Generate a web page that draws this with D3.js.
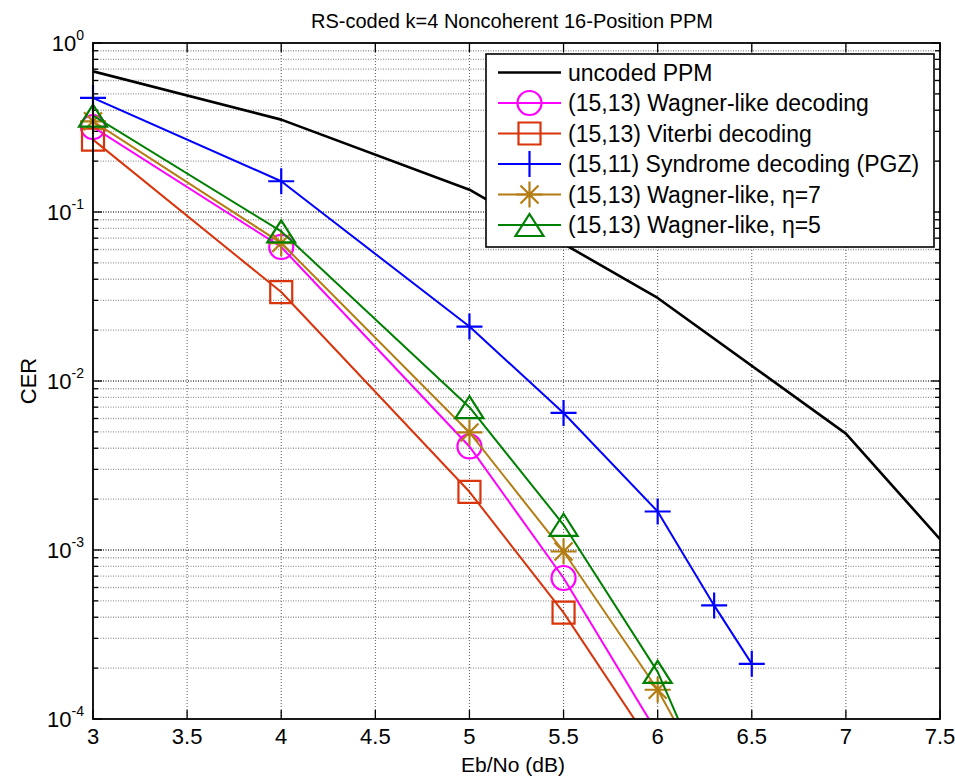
<!DOCTYPE html>
<html>
<head>
<meta charset="utf-8">
<script src="https://cdn.jsdelivr.net/npm/d3@7"></script>
<style>
  body { margin: 0; background: #fff; }
  text { font-family: "Liberation Sans", Arial, Helvetica, sans-serif; fill: #000; }
</style>
</head>
<body>
<svg id="chart" width="955" height="779"></svg>
<script>
// Eb/No sample points (dB)
const ebnoUncoded = [3, 4, 5, 6, 7, 7.5];
const ebnoCoded = [3, 4, 5, 5.5, 6, 6.5];
const ebnoPGZ = [3, 4, 5, 5.5, 6, 6.3, 6.5];

// Codeword error rates
const cerUncoded = [0.68, 0.352, 0.1355, 0.031, 0.00488, 0.00116];
const cerWagner = [0.318, 0.0621, 0.0041, 0.000683, 0.000082];
const cerViterbi = [0.268, 0.0336, 0.00221, 0.000426, 0.000062];
const cerPGZ = [0.473, 0.152, 0.021, 0.00647, 0.00169, 0.00047, 0.000212];
const cerEta7 = [0.344, 0.0655, 0.00496, 0.00098, 0.000149, 0.0000145];
const cerEta5 = [0.372, 0.0768, 0.0070, 0.00141, 0.00019, 0.00001];

// Legend labels
const seriesNames = [
  "uncoded PPM",
  "(15,13) Wagner-like decoding",
  "(15,13) Viterbi decoding",
  "(15,11) Syndrome decoding (PGZ)",
  "(15,13) Wagner-like, \u03B7=7",
  "(15,13) Wagner-like, \u03B7=5"
];

// Axis ticks
const xTicks = [3, 3.5, 4, 4.5, 5, 5.5, 6, 6.5, 7, 7.5];
const yDecadeExps = [-4, -3, -2, -1, 0];

const titleText = "RS-coded k=4 Noncoherent 16-Position PPM";
const xLabel = "Eb/No (dB)";
const yLabel = "CER";

// ---- drawing ----
const svg = d3.select("#chart");
const L = 93, R = 940, T = 43, B = 719;

const x = d3.scaleLinear().domain([3, 7.5]).range([L, R]);
const y = d3.scaleLog().domain([1e-4, 1]).range([B, T]);

const series = [
  { xs: ebnoUncoded, ys: cerUncoded, color: "#000000", width: 2.6, marker: null },
  { xs: ebnoCoded, ys: cerWagner, color: "#FF00FF", width: 2, marker: "circle" },
  { xs: ebnoCoded, ys: cerViterbi, color: "#D9340B", width: 2, marker: "square" },
  { xs: ebnoPGZ, ys: cerPGZ, color: "#0000FF", width: 2, marker: "plus" },
  { xs: ebnoCoded, ys: cerEta7, color: "#B47D14", width: 2, marker: "asterisk" },
  { xs: ebnoCoded, ys: cerEta5, color: "#008000", width: 2, marker: "triangle" }
];
series.forEach((s, i) => s.name = seriesNames[i]);

// Grid
const grid = svg.append("g");
xTicks.forEach(t => {
  if (t === 3 || t === 7.5) return;
  grid.append("line")
    .attr("x1", x(t)).attr("x2", x(t)).attr("y1", T).attr("y2", B)
    .attr("stroke", "#555").attr("stroke-width", 1).attr("stroke-dasharray", "1,2");
});
const minorVals = [];
yDecadeExps.slice(0, -1).forEach(e => {
  for (let m = 2; m <= 9; m++) minorVals.push(m * Math.pow(10, e));
});
minorVals.forEach(v => {
  grid.append("line")
    .attr("x1", L).attr("x2", R).attr("y1", y(v)).attr("y2", y(v))
    .attr("stroke", "#999").attr("stroke-width", 1.3).attr("stroke-dasharray", "1,1.5");
});
yDecadeExps.forEach(e => {
  const v = Math.pow(10, e);
  if (e === -4 || e === 0) return;
  grid.append("line")
    .attr("x1", L).attr("x2", R).attr("y1", y(v)).attr("y2", y(v))
    .attr("stroke", "#444").attr("stroke-width", 1.3).attr("stroke-dasharray", "1,1.5");
});

// Ticks (inside, on all four sides)
const ticks = svg.append("g").attr("stroke", "#000").attr("stroke-width", 1.3);
const majorLen = 9, minorLen = 5;
xTicks.forEach(t => {
  ticks.append("line").attr("x1", x(t)).attr("x2", x(t)).attr("y1", B).attr("y2", B - majorLen);
  ticks.append("line").attr("x1", x(t)).attr("x2", x(t)).attr("y1", T).attr("y2", T + majorLen);
});
yDecadeExps.forEach(e => {
  const yy = y(Math.pow(10, e));
  ticks.append("line").attr("x1", L).attr("x2", L + majorLen).attr("y1", yy).attr("y2", yy);
  ticks.append("line").attr("x1", R).attr("x2", R - majorLen).attr("y1", yy).attr("y2", yy);
});
minorVals.forEach(v => {
  const yy = y(v);
  ticks.append("line").attr("x1", L).attr("x2", L + minorLen).attr("y1", yy).attr("y2", yy);
  ticks.append("line").attr("x1", R).attr("x2", R - minorLen).attr("y1", yy).attr("y2", yy);
});

// Clip for lines
svg.append("clipPath").attr("id", "plotClip")
  .append("rect").attr("x", L).attr("y", T).attr("width", R - L).attr("height", B - T);

const line = d3.line().x(d => x(d[0])).y(d => y(d[1]));

const markerPath = {
  circle: null,
  square: "M-11,-11H11V11H-11Z",
  triangle: "M0,-11L14,11L-14,11Z",
  plus: "M-13,0H13M0,-13V13",
  asterisk: "M-13,0H13M0,-13V13M-9,-9L9,9M-9,9L9,-9"
};

function drawMarker(g, type, cx, cy, color) {
  if (type === "circle") {
    g.append("circle").attr("cx", cx).attr("cy", cy).attr("r", 12)
      .attr("fill", "none").attr("stroke", color).attr("stroke-width", 2.2);
  } else {
    g.append("path").attr("d", markerPath[type])
      .attr("transform", `translate(${cx},${cy})`)
      .attr("fill", "none").attr("stroke", color).attr("stroke-width", 2.2);
  }
}

const dataG = svg.append("g");
series.forEach(s => {
  const pts = s.xs.map((xv, i) => [xv, s.ys[i]]);
  dataG.append("path").datum(pts)
    .attr("d", line)
    .attr("clip-path", "url(#plotClip)")
    .attr("fill", "none").attr("stroke", s.color).attr("stroke-width", s.width)
    .attr("stroke-linejoin", "round");
  if (s.marker) {
    const mg = dataG.append("g");
    pts.filter(p => p[1] >= 1e-4 && p[0] <= 7.5).forEach(p => {
      drawMarker(mg, s.marker, x(p[0]), y(p[1]), s.color);
    });
  }
});

// Axes box
svg.append("rect").attr("x", L).attr("y", T).attr("width", R - L).attr("height", B - T)
  .attr("fill", "none").attr("stroke", "#000").attr("stroke-width", 1.8);

// Tick labels
xTicks.forEach(t => {
  svg.append("text").attr("x", x(t)).attr("y", 744)
    .attr("text-anchor", "middle").attr("font-size", 22).text(d3.format("~g")(t));
});
yDecadeExps.forEach(e => {
  const yy = y(Math.pow(10, e));
  const tx = svg.append("text").attr("x", 84).attr("y", yy + 8)
    .attr("text-anchor", "end").attr("font-size", 22);
  tx.append("tspan").text("10");
  tx.append("tspan").attr("font-size", 14).attr("dy", -11).text(e === 0 ? "0" : "-" + Math.abs(e));
});

// Title and axis labels
svg.append("text").attr("x", 512).attr("y", 28).attr("text-anchor", "middle")
  .attr("font-size", 20).text(titleText);
svg.append("text").attr("x", 513).attr("y", 772).attr("text-anchor", "middle")
  .attr("font-size", 21).text(xLabel);
svg.append("text").attr("transform", "translate(36,381) rotate(-90)")
  .attr("text-anchor", "middle").attr("font-size", 22).text(yLabel);

// Legend
const lg = svg.append("g");
const lgX = 486, lgY = 54, lgW = 448, lgH = 193;
lg.append("rect").attr("x", lgX).attr("y", lgY).attr("width", lgW).attr("height", lgH)
  .attr("fill", "#fff").attr("stroke", "#000").attr("stroke-width", 1.6);
series.forEach((s, i) => {
  const ry = 72.5 + i * 30.5;
  lg.append("line").attr("x1", 498).attr("x2", 561).attr("y1", ry).attr("y2", ry)
    .attr("stroke", s.color).attr("stroke-width", s.width);
  if (s.marker) drawMarker(lg, s.marker, 529.5, ry, s.color);
  lg.append("text").attr("x", 568).attr("y", ry + 8).attr("font-size", 23).text(s.name);
});
</script>
</body>
</html>
